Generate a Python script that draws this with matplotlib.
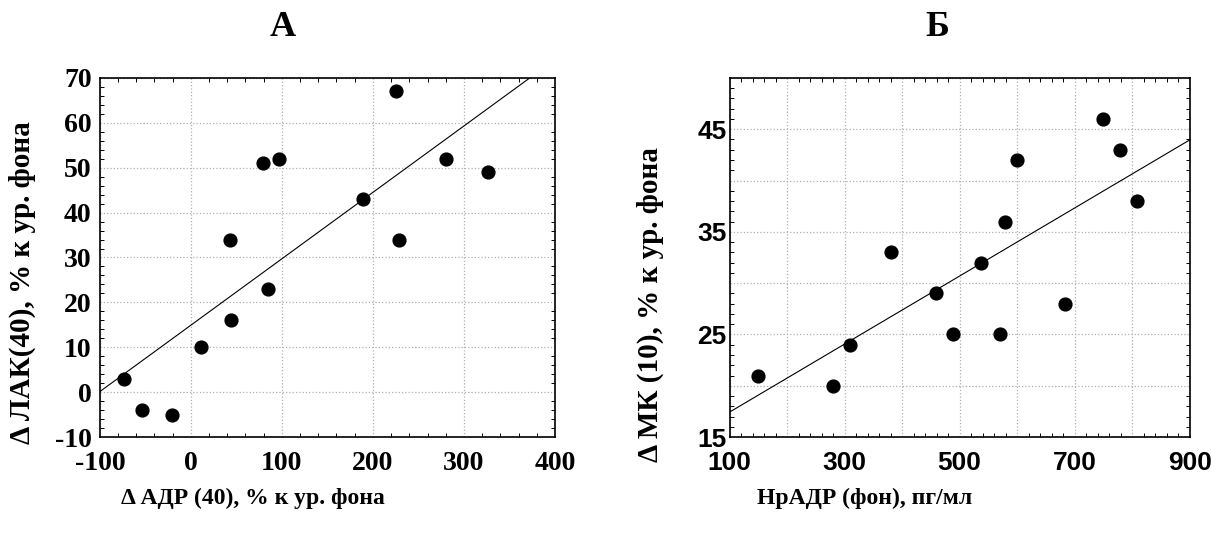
import numpy as np
import matplotlib.pyplot as plt
from matplotlib.ticker import MultipleLocator, FixedLocator

plt.rcParams['axes.unicode_minus'] = False

# panel A data
adr_x = [-73, -54, -21, 11, 43, 44, 79, 97, 85, 189, 225, 229, 280, 327]
lak_y = [3, -4, -5, 10, 34, 16, 51, 52, 23, 43, 67, 34, 52, 49]

# panel B data
nradr_x = [149, 279, 309, 380, 459, 489, 538, 570, 579, 599, 684, 749, 779, 808]
mk_y = [21, 20, 24, 33, 29, 25, 32, 25, 36, 42, 28, 46, 43, 38]

a_xticks = [-100, 0, 100, 200, 300, 400]
a_yticks = [-10, 0, 10, 20, 30, 40, 50, 60, 70]
b_xgrid = [100, 200, 300, 400, 500, 600, 700, 800, 900]
b_xlabels = ['100', '', '300', '', '500', '', '700', '', '900']
b_ygrid = [15, 20, 25, 30, 35, 40, 45, 50]
b_ylabels = ['15', '', '25', '', '35', '', '45', '']

serif = ['Liberation Serif', 'DejaVu Serif']
narrow = ['Liberation Sans Narrow', 'Liberation Sans', 'DejaVu Sans']

fig = plt.figure(figsize=(12.18, 5.37), dpi=100)
ax1 = fig.add_axes([0.082, 0.186, 0.3736, 0.669])
ax2 = fig.add_axes([0.599, 0.186, 0.3777, 0.669])


def style(ax, ypad):
    ax.grid(True, which='major', color='#b0b0b0', linestyle=':', linewidth=0.9)
    ax.set_axisbelow(True)
    ax.tick_params(which='both', direction='in', top=True, right=True)
    ax.tick_params(which='major', length=0)
    ax.tick_params(axis='x', which='major', pad=10)
    ax.tick_params(axis='y', which='major', pad=ypad)
    ax.tick_params(which='minor', length=3, width=0.7)
    for s in ax.spines.values():
        s.set_linewidth(1.2)


def fit_line(ax, x, y, lo, hi):
    k, b = np.polyfit(x, y, 1)
    xx = np.array([lo, hi])
    ax.plot(xx, k * xx + b, color='black', linewidth=0.8)


# panel A
ax1.scatter(adr_x, lak_y, s=85, color='black', zorder=3)
fit_line(ax1, adr_x, lak_y, -100, 400)
ax1.set_xlim(-100, 400)
ax1.set_ylim(-10, 70)
ax1.set_xticks(a_xticks)
ax1.set_yticks(a_yticks)
ax1.xaxis.set_minor_locator(MultipleLocator(20))
ax1.yaxis.set_minor_locator(MultipleLocator(2))
style(ax1, 6)
for lab in ax1.get_xticklabels() + ax1.get_yticklabels():
    lab.set_family(serif)
    lab.set_fontweight('bold')
    lab.set_fontsize(20)

# panel B
ax2.scatter(nradr_x, mk_y, s=85, color='black', zorder=3)
fit_line(ax2, nradr_x, mk_y, 100, 900)
ax2.set_xlim(100, 900)
ax2.set_ylim(15, 50)
ax2.xaxis.set_major_locator(FixedLocator(b_xgrid))
ax2.set_xticklabels(b_xlabels)
ax2.yaxis.set_major_locator(FixedLocator(b_ygrid))
ax2.set_yticklabels(b_ylabels)
ax2.xaxis.set_minor_locator(MultipleLocator(20))
ax2.yaxis.set_minor_locator(MultipleLocator(1))
style(ax2, 2)
for lab in ax2.get_xticklabels() + ax2.get_yticklabels():
    lab.set_family(narrow)
    lab.set_fontweight('bold')
    lab.set_fontsize(19)

# titles and axis labels
fig.text(283 / 1218, 1 - 28 / 537, 'А', family=serif, fontweight='bold', fontsize=26,
         ha='center', va='center')
fig.text(937 / 1218, 1 - 28 / 537, 'Б', family=serif, fontweight='bold', fontsize=26,
         ha='center', va='center')
fig.text(253 / 1218, 1 - 498 / 537, 'Δ АДР (40), % к ур. фона', family=serif,
         fontweight='bold', fontsize=17, ha='center', va='center')
fig.text(865 / 1218, 1 - 498 / 537, 'НрАДР (фон), пг/мл', family=serif,
         fontweight='bold', fontsize=17, ha='center', va='center')
fig.text(22 / 1218, 1 - 283 / 537, 'Δ ЛАК(40), % к ур. фона', family=serif,
         fontweight='bold', fontsize=21, ha='center', va='center', rotation=90)
fig.text(650 / 1218, 1 - 305 / 537, 'Δ МК (10), % к ур. фона', family=serif,
         fontweight='bold', fontsize=21, ha='center', va='center', rotation=90)

fig.savefig('out.png', dpi=100)
